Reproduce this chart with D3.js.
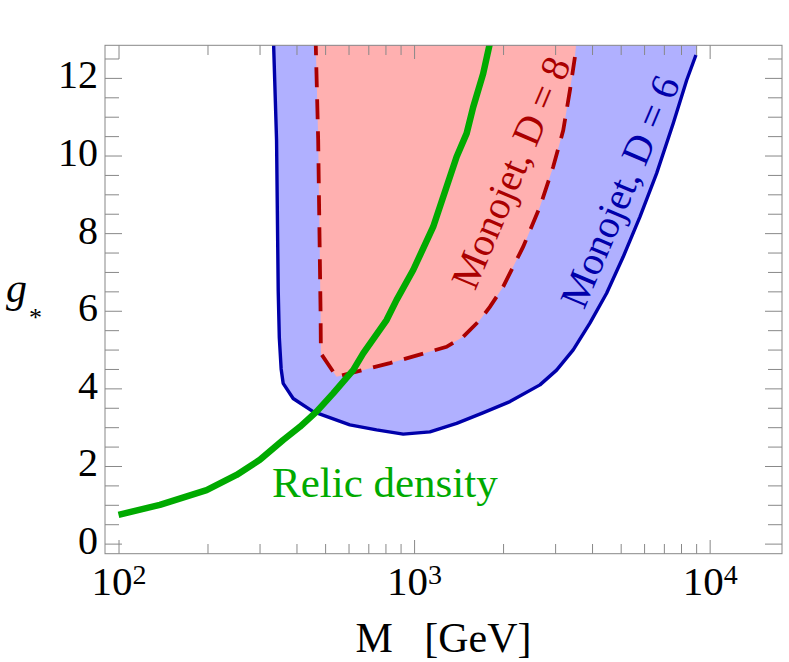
<!DOCTYPE html>
<html>
<head>
<meta charset="utf-8">
<script src="https://cdn.jsdelivr.net/npm/d3@7"></script>
<style>
	body { margin: 0; background: #fff; }
	svg { display: block; font-family: "Liberation Serif", "Times New Roman", serif; }
</style>
</head>
<body>
<script>
// relic density curve
var relicM = [100, 138, 198.6, 250.8, 300.8, 360.6, 410.8, 467.8, 532.4, 622.2, 672.6, 807.1, 872.7, 993.1, 1160, 1255, 1393, 1506, 1585, 1713, 1830];
var relicG = [0.74, 1.0, 1.38, 1.77, 2.16, 2.67, 3.01, 3.40, 3.87, 4.47, 4.90, 5.76, 6.28, 7.05, 8.16, 8.94, 9.97, 10.57, 11.25, 12.11, 13.1];

// monojet D = 6 boundary (solid)
var d6M = [334, 342.5, 347, 350, 355, 360.6, 389.8, 455.4, 606.3, 746.6, 918.8, 1131, 1393, 1709, 2110, 2666, 3035, 3454, 3934, 4481, 5100, 5809, 6616, 7532, 8360, 8987];
var d6G = [13.1, 10.40, 6.5, 5.3, 4.5, 4.13, 3.74, 3.40, 3.06, 2.93, 2.82, 2.88, 3.10, 3.37, 3.66, 4.09, 4.47, 4.99, 5.68, 6.45, 7.39, 8.42, 9.54, 10.83, 11.94, 12.59];
var d6TopM = 9130;

// monojet D = 8 boundary (dashed)
var d8M = [464, 473.7, 482.7, 483.8, 546.7, 638.8, 828.2, 1288, 1466, 1670, 1805, 2002, 2340, 2666, 2956, 3196, 3367, 3501];
var d8G = [13.1, 10.40, 5.93, 4.90, 4.30, 4.43, 4.65, 5.07, 5.33, 5.76, 6.10, 6.62, 7.65, 8.68, 9.71, 10.65, 11.68, 12.54];
var d8TopM = 3556;

var yMajor = [0, 2, 4, 6, 8, 10, 12];
var yMinor = [0.5, 1, 1.5, 2.5, 3, 3.5, 4.5, 5, 5.5, 6.5, 7, 7.5, 8.5, 9, 9.5, 10.5, 11, 11.5, 12.5];
var xMajor = [100, 1000, 10000];
var xExponents = ["2", "3", "4"];
var xMinor = [200, 300, 400, 500, 600, 700, 800, 900, 2000, 3000, 4000, 5000, 6000, 7000, 8000, 9000];

(function() {

var width = 789, height = 662;
var left = 105, right = 782, plotTop = 45.3, bottom = 553.7;

var x = d3.scaleLog().domain([90, 17570]).range([left, right]);
var y = d3.scaleLinear().domain([-0.26, 12.84]).range([bottom, plotTop]);

var svg = d3.select("body").append("svg")
	.attr("width", width)
	.attr("height", height);

svg.append("clipPath").attr("id", "plot")
	.append("rect")
	.attr("x", left).attr("y", plotTop)
	.attr("width", right - left).attr("height", bottom - plotTop);

var zip = function(ms, gs) { return ms.map(function(m, i) { return [m, gs[i]]; }); };
var line = d3.line()
	.x(function(d) { return x(d[0]); })
	.y(function(d) { return y(d[1]); });

var d6 = zip(d6M, d6G);
var d8 = zip(d8M, d8G);
var relic = zip(relicM, relicG);

var plot = svg.append("g").attr("clip-path", "url(#plot)");

plot.append("path")
	.attr("d", line(d6.concat([[d6TopM, 13.1]])) + "Z")
	.attr("fill", "#b0b0ff");

plot.append("path")
	.attr("d", line(d8.concat([[d8TopM, 13.1]])) + "Z")
	.attr("fill", "#ffb0b0");

plot.append("path")
	.attr("d", line(d6))
	.attr("fill", "none")
	.attr("stroke", "#0000aa")
	.attr("stroke-width", 3.4)
	.attr("stroke-linejoin", "round");

plot.append("path")
	.attr("d", line(d8))
	.attr("fill", "none")
	.attr("stroke", "#aa0000")
	.attr("stroke-width", 3.8)
	.attr("stroke-dasharray", "20,12");

plot.append("path")
	.attr("d", line(relic))
	.attr("fill", "none")
	.attr("stroke", "#00aa00")
	.attr("stroke-width", 6.5)
	.attr("stroke-linejoin", "round");

// annotations
svg.append("text")
	.attr("x", x(796.6)).attr("y", y(1.21))
	.attr("text-anchor", "middle")
	.attr("font-size", 43)
	.attr("fill", "#00aa00")
	.text("Relic density");

svg.append("text")
	.attr("transform", "translate(" + x(2123) + "," + y(9.56) + ") rotate(-67)")
	.attr("text-anchor", "middle")
	.attr("dominant-baseline", "central")
	.attr("font-size", 40)
	.attr("fill", "#aa0000")
	.text("Monojet, D = 8");

svg.append("text")
	.attr("transform", "translate(" + x(4971) + "," + y(9.07) + ") rotate(-67)")
	.attr("text-anchor", "middle")
	.attr("dominant-baseline", "central")
	.attr("font-size", 40)
	.attr("fill", "#0000aa")
	.text("Monojet, D = 6");

// frame and ticks
var tickColor = "#888";

function styleAxis(g) {
	g.attr("font-family", null).attr("font-size", null);
	g.select(".domain").remove();
	g.selectAll(".tick line").attr("stroke", tickColor).attr("stroke-width", 1);
	g.selectAll("text").attr("fill", "#000");
}

svg.append("g").attr("transform", "translate(" + left + ",0)")
	.call(d3.axisLeft(y).tickValues(yMajor).tickSize(-17).tickPadding(7).tickFormat(d3.format("d")))
	.call(styleAxis)
	.call(function(g) { g.selectAll("text").attr("font-size", 40).attr("dy", "0.25em"); });
svg.append("g").attr("transform", "translate(" + left + ",0)")
	.call(d3.axisLeft(y).tickValues(yMinor).tickSize(-14).tickFormat(""))
	.call(styleAxis);
svg.append("g").attr("transform", "translate(" + right + ",0)")
	.call(d3.axisRight(y).tickValues(yMajor).tickSize(-17).tickFormat(""))
	.call(styleAxis);
svg.append("g").attr("transform", "translate(" + right + ",0)")
	.call(d3.axisRight(y).tickValues(yMinor).tickSize(-14).tickFormat(""))
	.call(styleAxis);

var xAxis = svg.append("g").attr("transform", "translate(0," + bottom + ")")
	.call(d3.axisBottom(x).tickValues(xMajor).tickSize(-13.7).tickFormat(""))
	.call(styleAxis);
xAxis.selectAll(".tick text").remove();
xAxis.selectAll(".tick").append("text")
	.attr("y", 41.5)
	.attr("text-anchor", "middle")
	.attr("font-size", 41)
	.attr("fill", "#000")
	.each(function(d, i) {
		var t = d3.select(this);
		t.append("tspan").text("10");
		t.append("tspan").attr("font-size", 28).attr("dy", -11).text(xExponents[i]);
	});
svg.append("g").attr("transform", "translate(0," + bottom + ")")
	.call(d3.axisBottom(x).tickValues(xMinor).tickSize(-9.7).tickFormat(""))
	.call(styleAxis);
svg.append("g").attr("transform", "translate(0," + plotTop + ")")
	.call(d3.axisTop(x).tickValues(xMajor).tickSize(-13.7).tickFormat(""))
	.call(styleAxis);
svg.append("g").attr("transform", "translate(0," + plotTop + ")")
	.call(d3.axisTop(x).tickValues(xMinor).tickSize(-9.7).tickFormat(""))
	.call(styleAxis);

svg.append("rect")
	.attr("x", left).attr("y", plotTop)
	.attr("width", right - left).attr("height", bottom - plotTop)
	.attr("fill", "none")
	.attr("stroke", tickColor)
	.attr("stroke-width", 1);

// axis titles
svg.append("text")
	.attr("x", (left + right) / 2).attr("y", 652)
	.attr("text-anchor", "middle")
	.attr("font-size", 42)
	.attr("xml:space", "preserve")
	.text("M   [GeV]");

var gLabel = svg.append("text")
	.attr("x", 6).attr("y", 302)
	.attr("font-size", 42);
gLabel.append("tspan").attr("font-style", "italic").text("g");
gLabel.append("tspan").attr("font-size", 26).attr("dy", 24).attr("dx", 2).text("*");

})();
</script>
</body>
</html>
